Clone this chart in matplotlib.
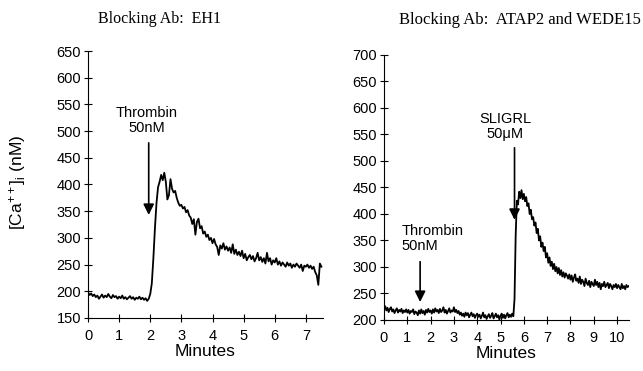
import numpy as np
import matplotlib
matplotlib.use("Agg")
import matplotlib.pyplot as plt

plt.rcParams["font.family"] = ["Liberation Sans", "DejaVu Sans"]
plt.rcParams["mathtext.fontset"] = "custom"
plt.rcParams["mathtext.rm"] = "Liberation Sans"
plt.rcParams["mathtext.it"] = "Liberation Sans:italic"
plt.rcParams["mathtext.default"] = "regular"

# -----------------------------
# Data (read off the traces, sampled every 0.05 min)
# -----------------------------
DT = 0.05

# Blocking Ab: EH1, thrombin added at ~1.95 min
eh1_ca = [
    198, 193, 196, 191, 194, 189, 192, 186, 190, 194, 188, 192, 189, 195, 190, 187, 193, 189, 191, 186,
    190, 187, 192, 186, 189, 185, 188, 191, 186, 189, 184, 188, 186, 190, 185, 188, 184, 187, 182, 186,
    195, 215, 262, 318, 365, 395, 405, 418, 408, 422, 405, 372, 380, 410, 392, 385, 388, 375, 366, 360,
    362, 355, 358, 348, 352, 342, 338, 326, 335, 306, 330, 336, 318, 322, 308, 312, 302, 306, 296, 300,
    290, 298, 288, 283, 268, 286, 280, 290, 278, 284, 276, 282, 272, 288, 270, 278, 268, 274, 266, 276,
    262, 270, 258, 264, 268, 260, 266, 256, 262, 272, 258, 264, 255, 262, 252, 272, 256, 262, 250, 258,
    254, 262, 250, 256, 248, 254, 250, 246, 254, 248, 252, 244, 250, 246, 252, 248, 244, 250, 238, 248,
    246, 250, 244, 248, 242, 246, 236, 230, 212, 252, 246,
]

# Blocking Ab: ATAP2 and WEDE15, thrombin at ~1.55 min, SLIGRL at ~5.6 min
atap_ca = [
    220, 226, 218, 223, 215, 221, 224, 216, 220, 213, 218, 222, 214, 219, 216, 221, 213, 218, 215, 220,
    214, 219, 212, 217, 215, 220, 211, 216, 214, 209, 218, 212, 220, 213, 217, 210, 219, 214, 221, 215,
    218, 212, 220, 214, 222, 216, 219, 213, 221, 215, 218, 224, 214, 219, 212, 217, 222, 214, 218, 216,
    224, 215, 219, 213, 217, 210, 214, 208, 212, 206, 214, 209, 213, 205, 210, 214, 207, 211, 204, 209,
    212, 206, 210, 203, 208, 214, 205, 209, 202, 207, 211, 204, 208, 213, 203, 207, 212, 205, 209, 201,
    208, 212, 204, 210, 203, 209, 213, 205, 210, 206, 212, 207, 240, 360, 425, 418, 442, 430, 445, 428,
    438, 424, 432, 415, 420, 400, 408, 390, 394, 378, 384, 364, 372, 350, 358, 338, 346, 330, 338, 318,
    326, 308, 318, 302, 310, 296, 306, 292, 300, 288, 298, 285, 294, 282, 290, 280, 288, 284, 278, 286,
    276, 284, 272, 280, 286, 274, 278, 270, 282, 268, 276, 272, 264, 278, 270, 266, 274, 262, 272, 268,
    264, 276, 266, 272, 262, 270, 258, 268, 264, 272, 262, 266, 270, 260, 268, 264, 258, 266, 262, 268,
    260, 266, 262, 258, 268, 260, 264, 258, 266, 262, 264,
]

eh1_xticks = list(range(0, 8))
eh1_yticks = list(range(150, 651, 50))
atap_xticks = list(range(0, 11))
atap_yticks = list(range(200, 701, 50))

# arrows: (time, arrow start, arrow tip)
eh1_thrombin = (1.95, 478, 343)
atap_thrombin = (1.55, 310, 234)
atap_sligrl = (5.6, 525, 389)


def style_axes(ax, xticks, yticks):
    for side in ["top", "right"]:
        ax.spines[side].set_visible(False)
    for side in ["left", "bottom"]:
        ax.spines[side].set_linewidth(0.8)
    ax.set_xticks(xticks)
    ax.set_yticks(yticks)
    ax.tick_params(direction="inout", length=6, width=0.8, labelsize=10.5)
    ax.tick_params(axis="x", pad=5)
    ax.tick_params(axis="y", pad=2)
    ax.set_xlabel("Minutes", fontsize=12.5, labelpad=1)


def draw_arrow(ax, where):
    t, y0, y1 = where
    ax.annotate("", xy=(t, y1), xytext=(t, y0),
                arrowprops=dict(arrowstyle="-|>", color="black", lw=1.2,
                                mutation_scale=16, shrinkA=0, shrinkB=0))


fig = plt.figure(figsize=(6.43, 3.71), dpi=100)

# left panel
ax1 = fig.add_axes([0.1369, 0.1429, 0.3654, 0.7196])
t1 = np.arange(len(eh1_ca)) * DT
ax1.plot(t1, eh1_ca, color="black", lw=1.3)
ax1.set_xlim(0, 7.55)
ax1.set_ylim(150, 650)
style_axes(ax1, eh1_xticks, eh1_yticks)
draw_arrow(ax1, eh1_thrombin)
ax1.text(1.88, 520, "Thrombin\n50nM", ha="center", va="center",
         multialignment="center", fontsize=10.5, linespacing=1.1)

# right panel
ax2 = fig.add_axes([0.5972, 0.1375, 0.3806, 0.7143])
t2 = np.arange(len(atap_ca)) * DT
ax2.plot(t2, atap_ca, color="black", lw=1.3)
ax2.set_xlim(0, 10.5)
ax2.set_ylim(200, 700)
style_axes(ax2, atap_xticks, atap_yticks)
draw_arrow(ax2, atap_thrombin)
draw_arrow(ax2, atap_sligrl)
ax2.text(0.77, 353, "Thrombin\n50nM", ha="left", va="center",
         multialignment="left", fontsize=10.5, linespacing=1.1)
ax2.text(5.2, 565, "SLIGRL\n50\u03bcM", ha="center", va="center",
         multialignment="center", fontsize=10.5, linespacing=1.1)

# titles and shared y label
fig.text(160 / 643, 1 - 19 / 371, "Blocking Ab:  EH1", ha="center", va="center",
         fontsize=11.5, family=["Liberation Serif", "DejaVu Serif"])
fig.text(520 / 643, 1 - 20 / 371, "Blocking Ab:  ATAP2 and WEDE15", ha="center", va="center",
         fontsize=12, family=["Liberation Serif", "DejaVu Serif"])
fig.text(18 / 643, 1 - 182 / 371, "[Ca$^{++}$]$_i$ (nM)", rotation=90,
         ha="center", va="center", fontsize=12.5)

fig.savefig("out.png", dpi=100, facecolor="white")
